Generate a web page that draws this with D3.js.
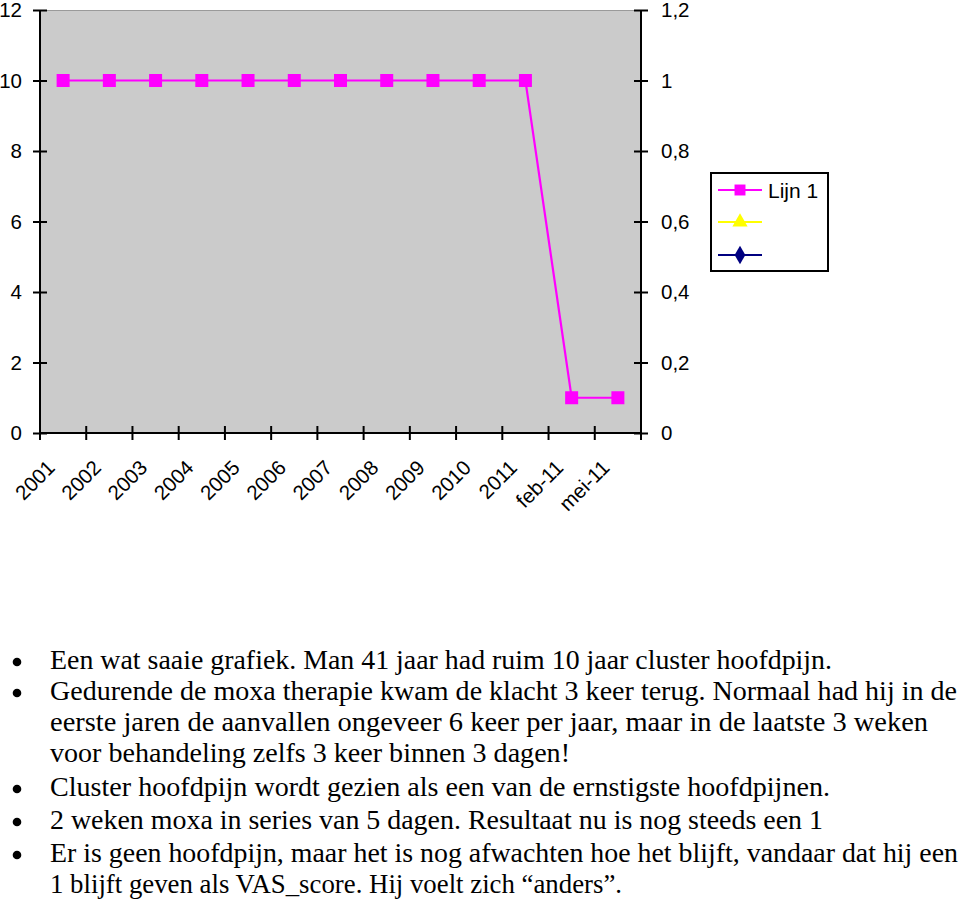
<!DOCTYPE html>
<html><head><meta charset="utf-8">
<script src="https://cdn.jsdelivr.net/npm/d3@7"></script>
<style>body{margin:0;background:#fff}svg{display:block}</style>
</head><body>
<svg id="c" width="960" height="901"></svg>
<script>
const categories = ["2001","2002","2003","2004","2005","2006","2007","2008","2009","2010","2011","feb-11","mei-11"];
const lijn1 = [10,10,10,10,10,10,10,10,10,10,10,1,1];
const lijn2 = [];   // yellow triangle series (no visible data)
const lijn3 = [];   // navy diamond series (no visible data)
const seriesNames = ["Lijn 1","",""];
const leftTicks = [0,2,4,6,8,10,12];
const rightTicks = [0,0.2,0.4,0.6,0.8,1,1.2];
const bullets = [
  ["Een wat saaie grafiek. Man 41 jaar had ruim 10 jaar cluster hoofdpijn."],
  ["Gedurende de moxa therapie kwam de klacht 3 keer terug. Normaal had hij in de",
   "eerste jaren de aanvallen ongeveer 6 keer per jaar, maar in de laatste 3 weken",
   "voor behandeling zelfs 3 keer binnen 3 dagen!"],
  ["Cluster hoofdpijn wordt gezien als een van de ernstigste hoofdpijnen."],
  ["2 weken moxa in series van 5 dagen. Resultaat nu is nog steeds een 1"],
  ["Er is geen hoofdpijn, maar het is nog afwachten hoe het blijft, vandaar dat hij een",
   "1 blijft geven als VAS_score. Hij voelt zich \u201canders\u201d."]
];

const svg = d3.select("#c");
const L = 40, R = 641, T = 10, B = 433;
const x = d3.scaleBand().domain(categories).range([L, R]);
const y = d3.scaleLinear().domain([0,12]).range([B, T]);
const y2 = d3.scaleLinear().domain([0,1.2]).range([B, T]);
const font = "'Liberation Sans', Arial, sans-serif";
const FS = 20.5;

svg.append("rect").attr("x",L).attr("y",T).attr("width",R-L).attr("height",B-T).attr("fill","#cbcbcb");
svg.append("line").attr("x1",L).attr("x2",R).attr("y1",T+0.5).attr("y2",T+0.5).attr("stroke","#9a9a9a").attr("stroke-width",1);

const fmt2 = d => String(+d.toFixed(1)).replace(".", ",");

// left axis
const gl = svg.append("g").attr("transform",`translate(${L},0)`)
  .call(d3.axisLeft(y).tickValues(leftTicks).tickSize(7).tickPadding(11).tickFormat(d3.format("d")));
gl.selectAll(".tick line").attr("x2",-7).attr("x1",7);
// right axis
const gr = svg.append("g").attr("transform",`translate(${R},0)`)
  .call(d3.axisRight(y2).tickValues(rightTicks).tickSize(7).tickPadding(13).tickFormat(fmt2));
gr.selectAll(".tick line").attr("x1",-7).attr("x2",7);
// bottom axis
const gb = svg.append("g").attr("transform",`translate(0,${B})`)
  .call(d3.axisBottom(x).tickSize(7).tickFormat(""));
const edges = categories.map(c => x(c)).concat([R]);
gb.selectAll(".tick").remove();
gb.selectAll(".etick").data(edges).join("line").attr("class","etick")
  .attr("x1",d=>d).attr("x2",d=>d).attr("y1",-7).attr("y2",7).attr("stroke","#000").attr("stroke-width",2);
gb.selectAll(".xl").data(categories).join("text").attr("class","xl")
  .attr("transform", d => `translate(${x(d)+x.bandwidth()/2-7},${36}) rotate(-45)`)
  .attr("text-anchor","end").attr("font-family",font).attr("font-size",FS).attr("fill","#000").text(d=>d);

[gl,gr,gb].forEach(g=>{
  g.selectAll(".domain").attr("stroke","#000").attr("stroke-width",2);
  g.selectAll(".tick line").attr("stroke","#000").attr("stroke-width",2);
  g.selectAll(".tick text").attr("font-family",font).attr("font-size",FS).attr("fill","#000");
});
gb.select(".domain").attr("d",`M${L},0H${R}`);
gl.select(".domain").attr("d",`M0,${B}V${T}`);
gr.select(".domain").attr("d",`M0,${B}V${T}`);

// series
const cx = d => x(d) + x.bandwidth()/2;
const line = d3.line().x((d,i)=>cx(categories[i])).y(d=>y(d));
svg.append("path").datum(lijn1).attr("d",line).attr("fill","none").attr("stroke","#ff00ff").attr("stroke-width",2.2);
svg.selectAll(".m1").data(lijn1).join("rect").attr("class","m1")
  .attr("x",(d,i)=>cx(categories[i])-6.5).attr("y",d=>y(d)-6.5).attr("width",13).attr("height",13).attr("fill","#ff00ff");
const line2 = d3.line().x((d,i)=>cx(categories[i])).y(d=>y2(d));
svg.append("path").datum(lijn2).attr("d",line2).attr("fill","none").attr("stroke","#ffff00").attr("stroke-width",2);
svg.append("path").datum(lijn3).attr("d",line2).attr("fill","none").attr("stroke","#000080").attr("stroke-width",2);

// legend
const lg = svg.append("g");
lg.append("rect").attr("x",711).attr("y",173).attr("width",117).attr("height",98).attr("fill","#fff").attr("stroke","#000").attr("stroke-width",2);
const legendStyles = [{c:"#ff00ff",s:d3.symbolSquare,sz:120},{c:"#ffff00",s:d3.symbolTriangle,sz:100},{c:"#000080",s:d3.symbolDiamond,sz:100}];
const ly = [190,222,255];
seriesNames.forEach((n,i)=>{
  lg.append("line").attr("x1",718).attr("x2",762).attr("y1",ly[i]).attr("y2",ly[i]).attr("stroke",legendStyles[i].c).attr("stroke-width",2);
  lg.append("path").attr("d",d3.symbol().type(legendStyles[i].s).size(legendStyles[i].sz)()).attr("transform",`translate(740,${ly[i]})`).attr("fill",legendStyles[i].c);
  lg.append("text").attr("x",768).attr("y",ly[i]+7.5).attr("font-family",font).attr("font-size",21).text(n);
});

// bullet text
const serif = "'Liberation Serif', 'DejaVu Serif', serif";
const lineTops = [669,700,731,762,796,829,862,893];
const lineEnds = [832,957,928,570,830,823,958,622];
let li = 0;
const tg = svg.append("g");
bullets.forEach(par=>{
  tg.append("circle").attr("cx",17).attr("cy",lineTops[li]-7).attr("r",4.3).attr("fill","#000");
  par.forEach(t=>{
    tg.append("text").attr("x",50).attr("y",lineTops[li]).attr("font-family",serif).attr("font-size",27)
      .attr("textLength",lineEnds[li]-50).attr("lengthAdjust","spacingAndGlyphs").attr("fill","#000").text(t);
    li++;
  });
});
</script>
</body></html>
